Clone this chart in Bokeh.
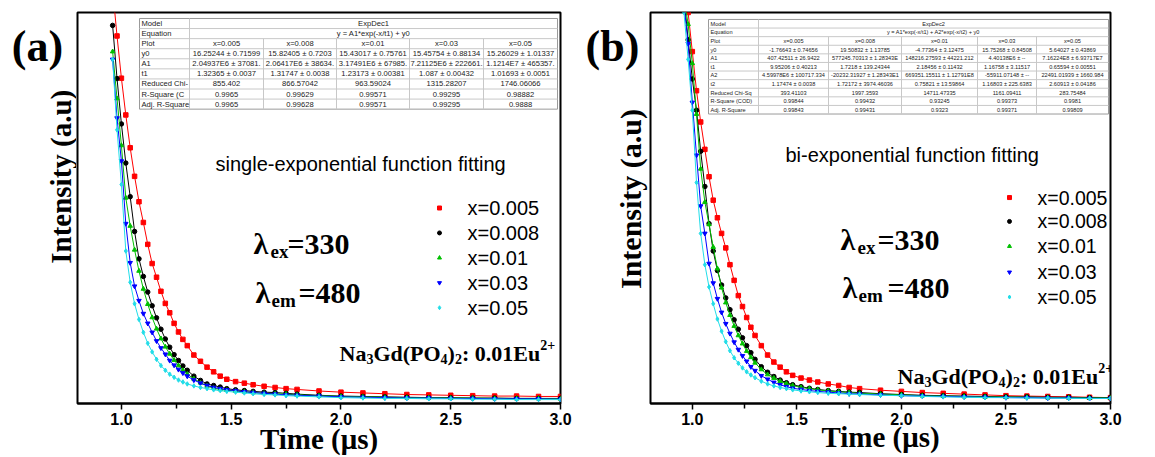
import math
from bokeh.plotting import figure
from bokeh.models import Range1d, FixedTicker, NumeralTickFormatter
from bokeh.layouts import row
from bokeh.embed import file_html
from bokeh.resources import INLINE
from bokeh.core.properties import value

# ---------------- data ----------------
time_us = [0.96, 0.98, 1.00, 1.02, 1.04, 1.06, 1.08, 1.10, 1.12, 1.14, 1.16, 1.18,
           1.20, 1.22, 1.24, 1.26, 1.28, 1.30, 1.33, 1.36, 1.39, 1.42, 1.45, 1.48,
           1.52, 1.56, 1.60, 1.65, 1.70, 1.75, 1.80, 1.90, 2.00, 2.10, 2.20, 2.30,
           2.40, 2.50, 2.60, 2.70, 2.80, 2.90, 3.00]

series_labels = ["x=0.005", "x=0.008", "x=0.01", "x=0.03", "x=0.05"]
series_colors = ["#ff0000", "#000000", "#00c000", "#0000ff", "#22dde8"]
series_markers = ["square", "circle", "triangle", "inverted_triangle", "diamond"]

# panel (a): single-exponential fitting
a_x0005 = [106, 94, 83.2, 73.8, 65.4, 58.1, 51.6, 46.3, 40.7, 35.8, 32.3, 28.7,
           25.6, 23.2, 20.5, 18.3, 16.4, 14.8, 12.4, 10.8, 9.3, 8.1, 7.0, 6.2,
           5.6, 5.2, 4.8, 4.4, 4.1, 3.8, 3.6, 3.2, 2.9, 2.7, 2.5, 2.3,
           2.2, 2.1, 2.0, 1.9, 1.9, 1.8, 1.8]
a_x0008 = [96.7, 83.1, 71.5, 61.5, 52.9, 44.0, 37.0, 32.5, 28.5, 25.0, 21.9, 19.0,
           16.5, 14.4, 12.5, 11.0, 9.6, 8.5, 7.0, 5.9, 5.0, 4.6, 4.2, 3.8,
           3.5, 3.3, 3.1, 2.9, 2.8, 2.6, 2.4, 2.1, 1.9, 1.8, 1.7, 1.6,
           1.5, 1.5, 1.4, 1.4, 1.3, 1.3, 1.3]
a_x001 = [90, 78, 66, 52.6, 45.4, 39.3, 33.9, 29.3, 25.4, 22.0, 19.1, 16.6,
          14.5, 12.7, 11.1, 9.7, 8.5, 7.5, 6.3, 5.3, 4.5, 3.9, 3.6, 3.4,
          3.2, 3.0, 2.8, 2.6, 2.5, 2.4, 2.2, 2.0, 1.8, 1.7, 1.6, 1.5,
          1.5, 1.4, 1.4, 1.3, 1.3, 1.3, 1.2]
a_x003 = [88, 73, 62, 46, 36, 30, 26.3, 23.0, 20.5, 18.2, 16.0, 14.2,
          12.6, 11.0, 9.8, 8.7, 7.8, 7.0, 6.0, 5.2, 4.6, 4.1, 3.8, 3.5,
          3.3, 3.0, 2.8, 2.6, 2.4, 2.2, 2.1, 1.9, 1.7, 1.6, 1.5, 1.4,
          1.4, 1.3, 1.3, 1.2, 1.2, 1.2, 1.1]
a_x005 = [88, 70, 56, 39, 31, 25.5, 21.5, 18.2, 15.4, 13.2, 11.3, 9.7,
          8.5, 7.5, 6.7, 6.0, 5.5, 5.0, 4.5, 4.1, 3.8, 3.5, 3.3, 3.1,
          2.9, 2.7, 2.5, 2.3, 2.2, 2.0, 1.9, 1.7, 1.5, 1.4, 1.3, 1.3,
          1.2, 1.2, 1.1, 1.1, 1.0, 1.0, 1.0]

# panel (b): bi-exponential fitting
b_x0005 = [108, 100, 90, 80, 72, 65, 58, 52, 47.5, 43.5, 39.8, 35.5,
           31.5, 27.6, 24.8, 22.0, 19.5, 17.4, 14.8, 12.4, 10.6, 9.3, 8.1, 7.2,
           6.5, 6.0, 5.5, 5.0, 4.6, 4.1, 3.8, 3.4, 3.1, 2.8, 2.6, 2.4,
           2.2, 2.0, 1.9, 1.8, 1.7, 1.6, 1.5]
b_x0008 = [104, 93, 83, 75, 64.5, 55.5, 46, 39, 34, 30.3, 27.0, 24.0,
           21.4, 19.0, 16.8, 14.8, 13.0, 11.3, 9.4, 8.0, 6.9, 6.0, 5.3, 4.8,
           4.3, 3.9, 3.6, 3.3, 3.1, 2.9, 2.8, 2.5, 2.3, 2.1, 2.0, 1.9,
           1.8, 1.7, 1.7, 1.6, 1.6, 1.5, 1.5]
b_x001 = [104, 97, 87, 74, 60, 51.5, 45.8, 40.0, 34.5, 29.6, 25.8, 22.6,
          19.8, 17.4, 15.3, 13.4, 11.8, 10.4, 8.7, 7.4, 6.5, 5.7, 5.1, 4.6,
          4.1, 3.8, 3.5, 3.2, 3.0, 2.8, 2.6, 2.4, 2.2, 2.0, 1.9, 1.8,
          1.7, 1.6, 1.6, 1.5, 1.5, 1.4, 1.4]
b_x003 = [102, 92, 77, 63.5, 50.5, 43.5, 35.8, 30.8, 26.8, 23.3, 20.4, 17.9,
          15.7, 13.8, 12.2, 10.8, 9.4, 8.4, 7.1, 6.2, 5.4, 4.8, 4.3, 3.9,
          3.6, 3.3, 3.1, 2.9, 2.7, 2.5, 2.4, 2.2, 2.0, 1.9, 1.8, 1.7,
          1.6, 1.5, 1.5, 1.4, 1.4, 1.3, 1.3]
b_x005 = [100, 88, 75, 56.5, 43.5, 35.5, 29.8, 25.5, 21.6, 18.5, 15.8, 13.5,
          11.7, 10.3, 9.1, 8.1, 7.3, 6.6, 5.7, 5.0, 4.5, 4.1, 3.8, 3.5,
          3.2, 3.0, 2.8, 2.6, 2.5, 2.4, 2.3, 2.1, 2.0, 1.8, 1.7, 1.6,
          1.5, 1.5, 1.4, 1.4, 1.3, 1.3, 1.3]

x_ticks = [1.0, 1.5, 2.0, 2.5, 3.0]
x_minor_ticks = [1.25, 1.75, 2.25, 2.75]

# fit-result tables
table_a_rows = ["Model", "Equation", "Plot", "y0", "A1", "t1",
                "Reduced Chi-", "R-Square (C", "Adj. R-Square"]
table_a_model = "ExpDec1"
table_a_equation = "y = A1*exp(-x/t1) + y0"
table_a_cells = [
    series_labels,
    ["16.25244 \u00b1 0.71599", "15.82405 \u00b1 0.7203", "15.43017 \u00b1 0.75761",
     "15.45754 \u00b1 0.88134", "15.26029 \u00b1 1.01337"],
    ["2.04937E6 \u00b1 37081.", "2.06417E6 \u00b1 38634.", "3.17491E6 \u00b1 67985.",
     "7.21125E6 \u00b1 222661.", "1.1214E7 \u00b1 465357."],
    ["1.32365 \u00b1 0.0037", "1.31747 \u00b1 0.0038", "1.23173 \u00b1 0.00381",
     "1.087 \u00b1 0.00432", "1.01693 \u00b1 0.0051"],
    ["855.402", "866.57042", "963.59024", "1315.28207", "1746.06066"],
    ["0.9965", "0.99629", "0.99571", "0.99295", "0.98882"],
    ["0.9965", "0.99628", "0.99571", "0.99295", "0.9888"],
]
table_b_rows = ["Model", "Equation", "Plot", "y0", "A1", "t1", "A2", "t2",
                "Reduced Chi-Sq", "R-Square (COD)", "Adj. R-Square"]
table_b_model = "ExpDec2"
table_b_equation = "y = A1*exp(-x/t1) + A2*exp(-x/t2) + y0"
table_b_cells = [
    series_labels,
    ["-1.76643 \u00b1 0.74656", "19.50832 \u00b1 1.13785", "-4.77364 \u00b1 3.12475",
     "15.75268 \u00b1 0.84508", "5.64027 \u00b1 0.43869"],
    ["407.42511 \u00b1 26.9422", "577245.70313 \u00b1 1.28343E", "148216.27593 \u00b1 44221.212",
     "4.40138E6 \u00b1 --", "7.16224E8 \u00b1 6.93717E7"],
    ["9.95206 \u00b1 0.40213", "1.7218 \u00b1 139.24344", "2.18456 \u00b1 0.11432",
     "1.16758 \u00b1 3.11517", "0.65594 \u00b1 0.00551"],
    ["4.59978E6 \u00b1 100717.334", "-20232.31927 \u00b1 1.28343E1", "669351.15511 \u00b1 1.12791E8",
     "-55911.07148 \u00b1 --", "22491.01939 \u00b1 1660.984"],
    ["1.17474 \u00b1 0.0038", "1.72172 \u00b1 3974.46036", "0.75821 \u00b1 13.59864",
     "1.16803 \u00b1 225.6383", "2.60913 \u00b1 0.04186"],
    ["393.41103", "1997.3593", "14711.47335", "1161.09411", "283.75484"],
    ["0.99844", "0.99432", "0.93245", "0.99373", "0.9981"],
    ["0.99843", "0.99431", "0.9323", "0.99371", "0.99809"],
]

SERIF = "Liberation Serif"
SANS = "Liberation Sans"
H = 457

# Times-Bold advance widths (per 1000 em) for laying out composed labels
TB = {"N": 722, "a": 500, "G": 778, "d": 556, "(": 333, "P": 611, "O": 778,
      ")": 333, ":": 333, " ": 250, "0": 500, ".": 250, "1": 500, "2": 500,
      "3": 500, "4": 500, "E": 667, "u": 556, "+": 570}


def tw(s, size):
    return sum(TB.get(c, 500) for c in s) * size / 1000.0


def px_text(p, x, y, text, size, font=SERIF, bold=True, align="left",
            baseline="alphabetic", angle=0.0, color="black"):
    p.text(x=[x], y=[y], text=[text], x_range_name="px", y_range_name="px",
           text_font=value(font), text_font_size=value(f"{size}px"),
           text_font_style="bold" if bold else "normal",
           text_align=align, text_baseline=baseline, angle=angle, text_color=color)


def draw_table(p, left, top, edges, row_h, row_names, model, equation, cells, fs):
    right = edges[-1]
    n = len(row_names)
    bottom = top + n * row_h
    kw = dict(x_range_name="px", y_range_name="px")
    p.quad(left=[left], right=[right], top=[top], bottom=[bottom],
           fill_color="white", line_color="#9a9a9a", line_width=1, **kw)
    hy = [top + i * row_h for i in range(1, n)]
    p.segment(x0=[left] * len(hy), x1=[right] * len(hy), y0=hy, y1=hy,
              line_color="#c8c8c8", line_width=1, **kw)
    p.segment(x0=[edges[0]], x1=[edges[0]], y0=[top], y1=[bottom],
              line_color="#c8c8c8", line_width=1, **kw)
    vx = edges[1:-1]
    p.segment(x0=vx, x1=vx, y0=[top + 2 * row_h] * len(vx), y1=[bottom] * len(vx),
              line_color="#c8c8c8", line_width=1, **kw)
    fsz = value(f"{fs}px")
    p.text(x=[left + 2] * n, y=[top + (i + 0.5) * row_h for i in range(n)],
           text=row_names, text_font=value(SANS), text_font_size=fsz,
           text_align="left", text_baseline="middle", text_color="#222222", **kw)
    mid = (edges[0] + right) / 2
    p.text(x=[mid, mid], y=[top + 0.5 * row_h, top + 1.5 * row_h], text=[model, equation],
           text_font=value(SANS), text_font_size=fsz, text_align="center",
           text_baseline="middle", text_color="#222222", **kw)
    xs, ys, ts = [], [], []
    for r, vals in enumerate(cells):
        for c, t in enumerate(vals):
            xs.append((edges[c] + edges[c + 1]) / 2)
            ys.append(top + (r + 2.5) * row_h)
            ts.append(t)
    p.text(x=xs, y=ys, text=ts, text_font=value(SANS), text_font_size=fsz,
           text_align="center", text_baseline="middle", text_color="#222222", **kw)


def make_side(cfg):
    x0, x1 = cfg["side"]
    s = figure(width=x1 - x0, height=H, x_range=Range1d(x0, x1), y_range=Range1d(H, 0),
               output_backend="svg", toolbar_location=None, x_axis_location=None,
               y_axis_location=None, min_border=0)
    s.extra_x_ranges = {"px": Range1d(x0, x1)}
    s.extra_y_ranges = {"px": Range1d(H, 0)}
    s.xgrid.visible = False
    s.ygrid.visible = False
    s.outline_line_color = None
    s.background_fill_color = "white"
    s.border_fill_color = "white"
    tgx, tgy = cfg["tag"]
    px_text(s, tgx, tgy, cfg["tag_text"], 44, align="center", baseline="middle")
    ylx, yly = cfg["ylabel"]
    px_text(s, ylx, yly, "Intensity (a.u)", cfg["ylabel_size"], align="center",
            baseline="middle", angle=math.pi / 2)
    return s


def make_panel(cfg, series):
    x0, x1 = cfg["span"]
    fl, fr, ft, fb = cfg["frame"]
    p = figure(width=x1 - x0, height=H, x_range=Range1d(0.8, 3.0),
               y_range=Range1d(0, 100), output_backend="svg", toolbar_location=None,
               min_border_left=fl - x0, min_border_right=x1 - fr,
               min_border_top=ft, min_border_bottom=H - fb)
    p.extra_x_ranges = {"px": Range1d(fl, fr)}
    p.extra_y_ranges = {"px": Range1d(fb, ft)}
    p.yaxis.visible = False
    p.xgrid.visible = False
    p.ygrid.visible = False
    p.outline_line_color = "black"
    p.outline_line_width = 2
    p.outline_line_alpha = 1
    p.background_fill_color = "white"
    p.border_fill_color = "white"
    ax = p.xaxis[0]
    ax.ticker = FixedTicker(ticks=x_ticks, minor_ticks=x_minor_ticks)
    ax.formatter = NumeralTickFormatter(format="0.0")
    ax.axis_line_width = 2
    ax.axis_line_color = "black"
    ax.major_tick_in = 0
    ax.major_tick_out = 6
    ax.minor_tick_in = 0
    ax.minor_tick_out = 5
    ax.major_tick_line_width = 1.5
    ax.minor_tick_line_width = 1.5
    ax.major_tick_line_color = "black"
    ax.minor_tick_line_color = "black"
    ax.major_label_text_font = SANS
    ax.major_label_text_font_style = "bold"
    ax.major_label_text_font_size = "16px"
    ax.major_label_text_color = "black"
    ax.major_label_standoff = 3
    ax.axis_label = "Time (\u03bcs)"
    ax.axis_label_text_font = SERIF
    ax.axis_label_text_font_style = "bold"
    ax.axis_label_text_font_size = "29px"
    ax.axis_label_text_color = "black"
    ax.axis_label_standoff = cfg["xlabel_standoff"]

    # data: fit lines + measured points
    for ys, lab, col, mk in zip(series, series_labels, series_colors, series_markers):
        p.line(time_us, ys, line_color=col, line_width=1)
        p.scatter(time_us, ys, marker=mk, size=4.5, fill_color=col, line_color=col)

    # table
    t = cfg["table"]
    draw_table(p, t["left"], t["top"], t["edges"], t["row_h"], t["rows"], t["model"],
               t["equation"], t["cells"], t["fs"])

    # note
    nx, ny = cfg["note"]
    px_text(p, nx, ny, cfg["note_text"], 20, font=SANS, bold=False, baseline="middle")

    # legend
    lx, tx, ly, lfs = cfg["legend"]
    for i, (lab, col, mk) in enumerate(zip(series_labels, series_colors, series_markers)):
        p.scatter([lx], [ly[i]], marker=mk, size=4, fill_color=col, line_color=col,
                  x_range_name="px", y_range_name="px")
    p.text(x=[tx] * 5, y=ly, text=series_labels, x_range_name="px", y_range_name="px",
           text_font=value(SANS), text_font_size=value(f"{lfs}px"), text_align="left",
           text_baseline="middle", text_color="black")

    # lambda labels
    for (lx0, base, sub, rest, sx, rx) in cfg["lambdas"]:
        px_text(p, lx0, base, "\u03bb", 30)
        px_text(p, sx, base + 8, sub, 19)
        px_text(p, rx, base, rest, 30)

    # compound
    cx, cb = cfg["compound"]
    F, f = cfg["compound_size"]
    pieces = [("Na", 0), ("3", 1), ("Gd(PO", 0), ("4", 1), (")", 0), ("2", 1),
              (": 0.01Eu", 0), ("2+", -1)]
    x = cx
    for s, kind in pieces:
        if kind == 0:
            px_text(p, x, cb, s, F)
            x += tw(s, F)
        elif kind == 1:
            px_text(p, x, cb + 5, s, f)
            x += tw(s, f)
        else:
            px_text(p, x, cb - 9, s, f)
            x += tw(s, f)
    return p


cfg_a = dict(
    side=(0, 76), tag=(37, 40), tag_text="(a)", ylabel=(60, 192), ylabel_size=29,
    span=(76, 577), frame=(77, 560, 11, 403), xlabel_standoff=-5,
    table=dict(left=139, top=17, edges=[189, 263, 336, 409, 483, 557], row_h=10.1,
               rows=table_a_rows, model=table_a_model, equation=table_a_equation,
               cells=table_a_cells, fs=7.6),
    note=(215, 163), note_text="single-exponential function fitting",
    legend=(439, 467, [207, 232, 257, 282, 307], 20),
    lambdas=[(253, 243, "ex", "=330", 270, 287), (255, 292, "em", "=480", 271, 298)],
    compound=(339, 353), compound_size=(22, 14),
)
cfg_b = dict(
    side=(577, 649), tag=(612, 40), tag_text="(b)", ylabel=(630, 218), ylabel_size=30,
    span=(649, 1155), frame=(650, 1110, 12, 405), xlabel_standoff=-7,
    table=dict(left=708, top=19, edges=[758, 828, 901, 977, 1036, 1108], row_h=8.64,
               rows=table_b_rows, model=table_b_model, equation=table_b_equation,
               cells=table_b_cells, fs=5.6),
    note=(785, 155), note_text="bi-exponential function fitting",
    legend=(1009, 1037, [198, 222, 247, 273, 298], 19.5),
    lambdas=[(840, 240, "ex", "=330", 857, 877), (842, 288, "em", "=480", 858, 887)],
    compound=(897, 378), compound_size=(22, 14),
)

side_a = make_side(cfg_a)
pa = make_panel(cfg_a, [a_x0005, a_x0008, a_x001, a_x003, a_x005])
side_b = make_side(cfg_b)
pb = make_panel(cfg_b, [b_x0005, b_x0008, b_x001, b_x003, b_x005])

layout = row(side_a, pa, side_b, pb)
open("out.html", "w").write(file_html(layout, INLINE))
